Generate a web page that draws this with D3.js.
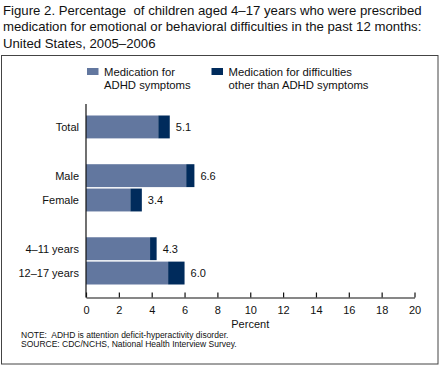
<!DOCTYPE html>
<html><head><meta charset="utf-8">
<script src="https://cdn.jsdelivr.net/npm/d3@7"></script>
<style>body{margin:0;background:#fff}svg{display:block;font-family:"Liberation Sans",Arial,sans-serif}</style>
</head><body>
<script>
const titleLines = ["Figure 2. Percentage  of children aged 4\u201317 years who were prescribed",
  "medication for emotional or behavioral difficulties in the past 12 months:",
  "United States, 2005\u20132006"];
const slots = ["Total","gap1","Male","Female","gap2","4\u201311 years","12\u201317 years"];
const categories = ["Total","Male","Female","4\u201311 years","12\u201317 years"];
const adhd = [4.4, 6.1, 2.7, 3.9, 5.0];
const other = [0.7, 0.5, 0.7, 0.4, 1.0];
const totals = [5.1, 6.6, 3.4, 4.3, 6.0];
const ticks = [0,2,4,6,8,10,12,14,16,18,20];
const legendLabels = [["Medication for","ADHD symptoms"],["Medication for difficulties","other than ADHD symptoms"]];
const colors = ["#62779f","#002b5c"];
const notes = ["NOTE:  ADHD is attention deficit-hyperactivity disorder.","SOURCE: CDC/NCHS, National Health Interview Survey."];

const svg = d3.select("body").append("svg").attr("width",440).attr("height",366);
svg.append("g").selectAll("text").data(titleLines).join("text")
  .attr("x",3).attr("y",(d,i)=>14.5+i*16.6).attr("font-size",13.2).attr("fill","#111")
  .attr("xml:space","preserve").style("white-space","pre").text(d=>d);

svg.append("rect").attr("x",1.5).attr("y",55.5).attr("width",436.5).attr("height",308.5)
  .attr("fill","none").attr("stroke","#444").attr("stroke-width",1);

const x = d3.scaleLinear().domain([0,20]).range([86,414.5]);
const y = d3.scaleBand().domain(slots).range([115.5,284.5]).paddingInner(0.06);

// legend
const lg = svg.append("g");
const lx = [87,211.5];
legendLabels.forEach((lab,i)=>{
  lg.append("rect").attr("x",lx[i]).attr("y",68).attr("width",11.5).attr("height",7).attr("fill",colors[i]);
  lg.append("text").attr("x",lx[i]+17).attr("y",75.5).attr("font-size",11.3).attr("fill","#111")
    .selectAll("tspan").data(lab).join("tspan").attr("x",lx[i]+17).attr("dy",(d,j)=>j?13.3:0).text(d=>d);
});

// bars
const data = categories.map((c,i)=>({c, a:adhd[i], o:other[i], t:totals[i]}));
const g = svg.append("g");
g.selectAll("rect.a").data(data).join("rect").attr("class","a")
  .attr("x",x(0)).attr("y",d=>y(d.c)).attr("width",d=>x(d.a)-x(0)).attr("height",y.bandwidth())
  .attr("fill",colors[0]);
g.selectAll("rect.o").data(data).join("rect").attr("class","o")
  .attr("x",d=>x(d.a)).attr("y",d=>y(d.c)).attr("width",d=>x(d.a+d.o)-x(d.a)).attr("height",y.bandwidth())
  .attr("fill",colors[1]);
g.selectAll("text.v").data(data).join("text").attr("class","v")
  .attr("x",d=>x(d.a+d.o)+6).attr("y",d=>y(d.c)+y.bandwidth()/2+4).attr("font-size",11).attr("fill","#111")
  .text(d=>d.t.toFixed(1));
g.selectAll("text.c").data(data).join("text").attr("class","c")
  .attr("x",79).attr("y",d=>y(d.c)+y.bandwidth()/2+4).attr("font-size",11).attr("fill","#111")
  .attr("text-anchor","end").text(d=>d.c);

// axes
svg.append("line").attr("x1",86).attr("x2",86).attr("y1",104).attr("y2",297.5).attr("stroke","#111").attr("stroke-width",1.2);
const ax = svg.append("g").attr("transform","translate(0,297.5)")
  .call(d3.axisBottom(x).tickValues(ticks).tickSize(-5).tickPadding(9).tickSizeOuter(0));
ax.select(".domain").attr("stroke","#111").attr("stroke-width",1.2);
ax.selectAll(".tick line").attr("stroke","#111").attr("stroke-width",1.2);
ax.selectAll(".tick text").attr("font-size",11).attr("fill","#111").attr("font-family","Liberation Sans, Arial, sans-serif");
svg.append("text").attr("x",x(10)).attr("y",328).attr("text-anchor","middle").attr("font-size",11).attr("fill","#111").text("Percent");

svg.append("g").selectAll("text").data(notes).join("text")
  .attr("x",21).attr("y",(d,i)=>338+i*9).attr("font-size",8.5).attr("fill","#111")
  .attr("xml:space","preserve").style("white-space","pre").text(d=>d);
</script>
</body></html>
